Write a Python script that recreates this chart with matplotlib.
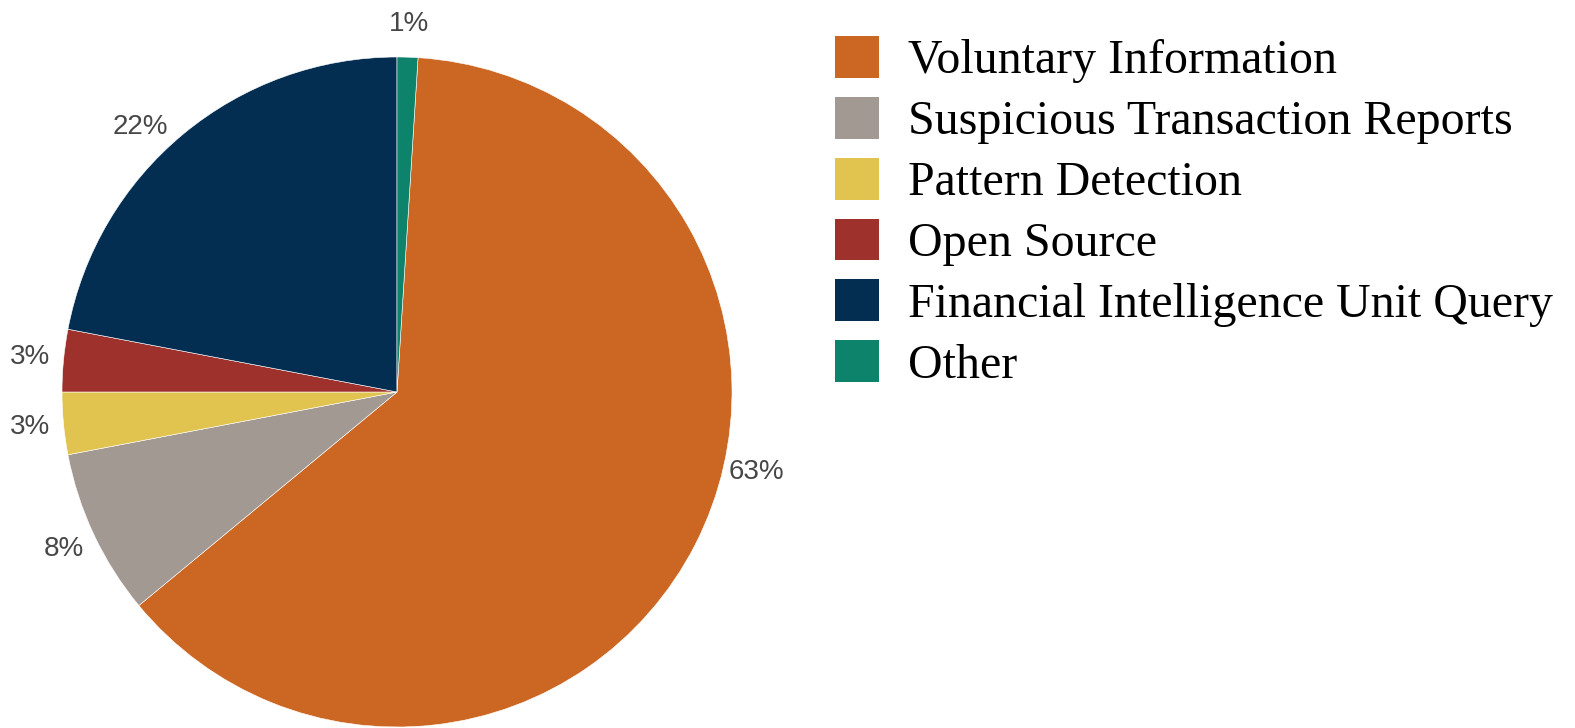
import numpy as np
import matplotlib
matplotlib.use("Agg")
import matplotlib.pyplot as plt
from matplotlib.patches import Patch

# Sources of case initiation (share of total)
categories = ["Voluntary Information", "Suspicious Transaction Reports", "Pattern Detection",
              "Open Source", "Financial Intelligence Unit Query", "Other"]
shares = [63, 8, 3, 3, 22, 1]
pct_labels = ["63%", "8%", "3%", "3%", "22%", "1%"]
colors = ["#CB6723", "#A29993", "#E1C350", "#9E312C", "#032E52", "#0E836B"]

fig = plt.figure(figsize=(15.75, 7.28), dpi=100)

# pie box: centre ~ (397, 392) px, radius ~335 px
R = 335
cx, cy = 397, 392
ax = fig.add_axes([(cx - R) / 1575, (728 - cy - R) / 728, 2 * R / 1575, 2 * R / 728])

start = 90 - 360 * shares[-1] / sum(shares)
wedges, _ = ax.pie(shares, colors=colors, startangle=start, counterclock=False, radius=1,
                   wedgeprops=dict(edgecolor="white", linewidth=0.4))
ax.set_xlim(-1, 1)
ax.set_ylim(-1, 1)
ax.set_aspect("equal")
ax.axis("off")

# percentage labels just outside each wedge
label_font = dict(family=["Liberation Sans", "DejaVu Sans"], fontsize=20, color="#474747")
for w, lab in zip(wedges, pct_labels):
    ang = (w.theta1 + w.theta2) / 2
    dist = 1.1
    if lab == "63%":
        # label sits lower-right, nearer the horizontal in the original
        ang = -12.5
    elif lab == "22%":
        ang += 4.5
    x = dist * np.cos(np.radians(ang))
    y = dist * np.sin(np.radians(ang))
    ax.text(x, y, lab, ha="center", va="center", **label_font)

handles = [Patch(facecolor=c, edgecolor="none") for c in colors]
fig.legend(handles, categories, loc="upper left", bbox_to_anchor=(835 / 1575, 1 - 36 / 728),
           frameon=False, prop=dict(family="Liberation Serif", size=34.5),
           handlelength=0.92, handleheight=0.97, handletextpad=0.6, labelspacing=0.28,
           borderaxespad=0, borderpad=0)

fig.savefig("out.png", dpi=100, facecolor="white")
